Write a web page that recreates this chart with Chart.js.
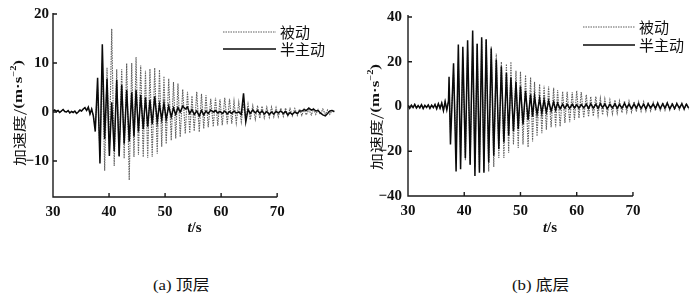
<!DOCTYPE html>
<html>
<head>
<meta charset="utf-8">
<script src="https://cdn.jsdelivr.net/npm/chart.js@4.4.0/dist/chart.umd.min.js"></script>
<style>
  body { margin: 0; background: #fff; width: 700px; height: 295px; position: relative; overflow: hidden; }
  .panel { position: absolute; top: 0; width: 350px; height: 240px; }
  .cap { position: absolute; top: 273px; font-size: 15px; color: #111; white-space: nowrap;
         transform: scaleX(1.12); transform-origin: left top; }
  .cap .n { font-family: "Liberation Serif", serif; }
  .cap .c { font-family: "Noto Sans CJK SC", sans-serif; }
</style>
</head>
<body>
<div class="panel" style="left:0"><canvas id="top" width="350" height="240"></canvas></div>
<div class="panel" style="left:350px"><canvas id="bottom" width="350" height="240"></canvas></div>
<div class="cap" style="left:153px"><span class="n">(a)</span> <span class="c">顶层</span></div>
<div class="cap" style="left:512px"><span class="n">(b)</span> <span class="c">底层</span></div>
<script>
// time axis (s)
var xTicks = [30, 40, 50, 60, 70];
var topYTicks = [-10, 0, 10, 20];
var botYTicks = [-40, -20, 0, 20, 40];

// quiet part before the shaking, both cases overlap
var preT = [30.0, 30.3, 30.6, 30.9, 31.2, 31.5, 31.8, 32.1, 32.4, 32.7,
            33.0, 33.3, 33.6, 33.9, 34.2, 34.5, 34.8, 35.1, 35.4, 35.7,
            36.0, 36.3, 36.6, 36.9, 37.2];
var topPre = [0.2, 0.4, 0.1, 0.3, -0.1, 0.2, 0.5, 0.1, 0.0, 0.3,
              -0.2, 0.1, -0.1, 0.2, -0.3, 0.0, 0.4, 0.2, 0.6, 0.9,
              0.3, 1.0, -0.4, 0.6, -0.8];
var botPre = [0.5, -0.8, 0.6, -0.5, 0.9, -0.7, 0.4, -0.6, 0.8, -0.9,
              0.5, -0.4, 0.7, -0.8, 0.6, -0.5, 0.9, -1.0, 1.2, -0.8,
              1.5, -1.8, 2.2, -1.5, 2.5];

// (a) top floor
var topT = [37.54, 37.96, 38.38, 38.8, 39.22, 39.64, 40.06, 40.48, 40.92, 41.37,
            41.8, 42.26, 42.7, 43.15, 43.6, 44.05, 44.45, 44.82, 45.25, 45.65,
            46.1, 46.5, 46.9, 47.3, 47.7, 48.15, 48.6, 49.0, 49.4, 49.8,
            50.2, 50.65, 51.1, 51.5, 51.9, 52.3, 52.7, 53.15, 53.6, 54.0,
            54.4, 54.8, 55.2, 55.65, 56.1, 56.5, 56.9, 57.3, 57.7, 58.15,
            58.6, 59.0, 59.4, 59.8, 60.2, 60.65, 61.1, 61.5, 61.9, 62.3,
            62.7, 63.15, 63.6, 64.0, 64.4, 64.8, 65.2, 65.65, 66.1, 66.5,
            66.9, 67.3, 67.7, 68.15, 68.6, 69.0, 69.4, 69.8, 70.2, 70.65,
            71.1, 71.5, 71.9, 72.3, 72.7, 73.15, 73.6, 74.0, 74.4, 74.8,
            75.2, 75.65, 76.1, 76.5, 76.9, 77.3, 77.7, 78.15, 78.6, 79.0,
            79.4, 79.8, 80.2];
var topPassive = [-3, 5, -9, 10, -12, 9, -8, 17, -11, 8.7,
                  -9.2, 8.7, -9.5, 9.9, -13.9, 10, -9.2, 11.2, -8.8, 9.5,
                  -9.2, 8.4, -9.4, 8.8, -9.2, 9, -8.5, 8.6, -7.1, 7.3,
                  -6.5, 6.8, -5.8, 6.1, -5.4, 5.8, -5.1, 4.6, -4.4, 4.1,
                  -4.3, 3.3, -3.9, 4.1, -4.1, 3.7, -3.4, 3.4, -3.1, 2.7,
                  -3.0, 2.9, -2.8, 2.6, -2.7, 2.9, -2.5, 2.7, -2.4, 2.2,
                  -2.2, 2.0, -2.0, 1.7, -1.8, 1.6, -1.6, 1.3, -1.5, 1.3,
                  -1.3, 1.2, -1.2, 1.0, -1.1, 1.0, -1.0, 0.9, -1.0, 0.8,
                  -0.9, 0.8, -0.8, 0.7, -0.8, 0.7, -0.7, 0.6, -0.7, 0.6,
                  -0.6, 0.5, -0.6, 0.6, -0.5, 0.5, -0.5, 0.6, -0.5, 0.4,
                  -0.5, 0.3, 0];
var topSemi = [-4, 7, -10.5, 13.8, -5.5, 6.8, -9, 2, -8, 6.5,
               -9, 5.5, -6.5, 4.5, -6, 4, -5, 4.5, -4, 3.5,
               -3.5, 3, -3, 2.5, -2.5, 3.2, -2, 1.5, -1.5, 1.8,
               -1.5, 1.2, -1, 0.8, -0.5, 0.9, 0, 1.2, 0.6, 1.0,
               -0.3, 0.5, -0.5, 0.2, -0.8, 0.3, -0.6, 0.2, -0.3, 0.4,
               0, 0.3, -0.2, 0.1, -0.3, 0.2, -0.4, 0.1, -0.3, 0.2,
               -0.2, 0, -0.5, 3.8, -2.0, 0.5, -0.3, 0.4, -0.2, 0.3,
               -0.3, 0.2, -0.4, 0.1, -0.5, 0, -0.4, 0.1, -0.2, 0.2,
               -0.3, 0.1, -0.6, -0.1, -0.5, 0, -0.3, 0.2, 0.2, 0.5,
               0.3, 0.8, 0.4, 0.6, 0.2, 0.3, -0.2, -0.6, -0.8, -0.3,
               0.2, 0.3, 0.1];

// (b) bottom floor
var botT = [37.3, 37.55, 38.1, 38.55, 38.95, 39.35, 39.75, 40.2, 40.6, 41.05,
            41.5, 41.9, 42.3, 42.7, 43.1, 43.5, 43.9, 44.35, 44.8, 45.25,
            45.7, 46.15, 46.6, 47.05, 47.5, 47.9, 48.3, 48.75, 49.2, 49.6,
            50.0, 50.45, 50.9, 51.35, 51.8, 52.15, 52.5, 52.95, 53.4, 53.8,
            54.2, 54.6, 55.0, 55.45, 55.9, 56.25, 56.6, 57.05, 57.5, 57.9,
            58.3, 58.75, 59.2, 59.6, 60.0, 60.4, 60.8, 61.25, 61.7, 62.1,
            62.5, 62.95, 63.4, 63.8, 64.2, 64.6, 65.0, 65.45, 65.9, 66.35,
            66.8, 67.2, 67.6, 68.05, 68.5, 68.9, 69.3, 69.75, 70.2, 70.6,
            71.0, 71.45, 71.9, 72.3, 72.7, 73.15, 73.6, 74.0, 74.4, 74.85,
            75.3, 75.7, 76.1, 76.55, 77.0, 77.4, 77.8, 78.25, 78.7, 79.1,
            79.5, 79.9];
var botPassive = [8, -12, 15, -20, 20, -22, 22, -24, 25, -26,
                  27, -27, 28, -28, 30, -29, 30, -29, 27, -27,
                  23.7, -23, 20, -23, 19, -20.7, 20, -17, 16, -18.5,
                  15.6, -17, 14, -18.2, 13, -15.6, 11, -13.3, 10, -11.9,
                  9.3, -10.4, 8.9, -9.3, 8.4, -9.3, 7.4, -8.9, 6.7, -7.4,
                  6.6, -7, 6.4, -5.9, 7, -5.2, 6.5, -5, 5.2, -4.6,
                  4.4, -4.3, 4.4, -4, 3.7, -3.7, 3.4, -3.5, 3, -3.3,
                  2.9, -3, 2.5, -2.8, 2.5, -2.6, 2.4, -2.5, 2.2, -2.3,
                  2.2, -2.2, 2.1, -2.1, 2, -2, 1.9, -1.9, 1.8, -1.8,
                  1.8, -1.7, 1.7, -1.7, 1.6, -1.6, 1.5, -1.5, 1.5, -1.5,
                  1.4, -1.2];
var botSemi = [13.3, -17, 19.3, -29, 27.7, -28, 26.7, -23, 29.6, -26,
               34, -31, 28, -29.6, 31, -29.6, 30, -25, 26, -22,
               21, -19, 18, -16, 15, -13, 13, -11, 11, -10,
               9, -8, 7, -6, 5.5, -4.5, 4.5, -3.5, 3.5, -3,
               3, -2.5, 2.5, -2, 2, -1.5, 1.5, -1, 1, -0.8,
               1, -0.8, 1, -0.6, 0.8, -0.7, 0.9, -0.6, 1, -0.8,
               1.2, -0.7, 1, -0.8, 1.3, -0.5, 1.1, -0.9, 1, -0.6,
               1.2, -0.8, 0.9, -0.7, 1.4, -0.6, 1, -0.9, 1.1, -0.7,
               1.3, -0.8, 1, -1, 1.2, -0.6, 1.1, -0.8, 1.4, -0.9,
               1.2, -0.7, 1.5, -1, 1.1, -0.9, 1.3, -0.7, 1.2, -1,
               1, -0.6];

var serif = '"Liberation Serif", "Times New Roman", serif';
var cjk = '"Noto Sans CJK SC", sans-serif';

function pts(ts, vs) {
  return ts.map(function(t, i) { return { x: t, y: vs[i] }; });
}

// axes, inner ticks, legend and titles drawn by hand
var decor = {
  id: 'decor',
  afterDatasetsDraw: function(chart, args, o) {
    var ctx = chart.ctx, a = chart.chartArea;
    var x = chart.scales.x, y = chart.scales.y;
    ctx.save();
    ctx.strokeStyle = '#1a1a1a';
    ctx.lineWidth = 1.4;
    ctx.beginPath();
    ctx.moveTo(a.left, a.top);
    ctx.lineTo(a.left, a.bottom);
    ctx.lineTo(x.getPixelForValue(xTicks[xTicks.length - 1]), a.bottom);
    xTicks.forEach(function(v) {
      var px = x.getPixelForValue(v);
      ctx.moveTo(px, a.bottom);
      ctx.lineTo(px, a.bottom - 4);
    });
    o.yTicks.forEach(function(v) {
      var py = y.getPixelForValue(v);
      ctx.moveTo(a.left, py);
      ctx.lineTo(a.left + 4, py);
    });
    ctx.stroke();

    // legend
    chart.data.datasets.forEach(function(ds, i) {
      var ly = o.legend.ys[i];
      ctx.beginPath();
      ctx.strokeStyle = ds.borderColor;
      ctx.lineWidth = ds.borderWidth;
      ctx.setLineDash(ds.borderDash || []);
      ctx.moveTo(o.legend.x1, ly);
      ctx.lineTo(o.legend.x2, ly);
      ctx.stroke();
      ctx.setLineDash([]);
      ctx.fillStyle = '#111';
      ctx.font = '15px ' + cjk;
      ctx.textBaseline = 'middle';
      ctx.textAlign = 'left';
      ctx.fillText(ds.label, o.legend.x2 + 4, ly);
    });

    // x title: italic t / s
    ctx.fillStyle = '#111';
    ctx.textBaseline = 'middle';
    ctx.font = 'italic bold 15px ' + serif;
    var w1 = ctx.measureText('t').width;
    ctx.font = 'bold 15px ' + serif;
    var w2 = ctx.measureText('/s').width;
    var sx = (a.left + a.right) / 2 - (w1 + w2) / 2;
    ctx.font = 'italic bold 15px ' + serif;
    ctx.fillText('t', sx, o.xTitleY);
    ctx.font = 'bold 15px ' + serif;
    ctx.fillText('/s', sx + w1, o.xTitleY);

    // y title
    var segs = [
      ['加速度/', '13px ' + cjk, 0],
      ['(m·s', 'bold 13px ' + serif, 0],
      ['−2', 'bold 8px ' + serif, -5],
      [')', 'bold 13px ' + serif, 0]
    ];
    var total = 0;
    segs.forEach(function(s) { ctx.font = s[1]; s.push(ctx.measureText(s[0]).width); total += s[3]; });
    ctx.translate(o.yTitle.x, o.yTitle.y);
    ctx.rotate(-Math.PI / 2);
    ctx.scale(1.3, 1);
    var cx = -total / 2;
    segs.forEach(function(s) {
      ctx.font = s[1];
      ctx.fillText(s[0], cx, s[2]);
      cx += s[3];
    });
    ctx.restore();
  }
};

function build(id, T, pre, passive, semi, yMin, yMax, yTicks, o) {
  var tickFont = { family: serif, size: 15, weight: 'bold' };
  o.yTicks = yTicks;
  return new Chart(document.getElementById(id), {
    type: 'line',
    data: {
      datasets: [{
        label: '被动',
        data: pts(preT.concat(T), pre.concat(passive)),
        borderColor: '#5e5e5e',
        borderWidth: 1.1,
        borderDash: [1.5, 1],
        order: 1
      }, {
        label: '半主动',
        data: pts(preT.concat(T), pre.concat(semi)),
        borderColor: '#0a0a0a',
        borderWidth: 1.5,
        order: 0
      }]
    },
    options: {
      responsive: false,
      animation: false,
      events: [],
      layout: { padding: { top: 13, right: o.padRight, left: 0, bottom: 0 } },
      elements: { point: { radius: 0 }, line: { tension: 0 } },
      plugins: { legend: { display: false }, tooltip: { enabled: false }, decor: o },
      scales: {
        x: {
          type: 'linear', min: 30, max: 80.5,
          grid: { display: false, drawTicks: false },
          border: { display: false },
          ticks: { font: tickFont, color: '#111', padding: 6, maxRotation: 0 },
          afterBuildTicks: function(s) { s.ticks = xTicks.map(function(v) { return { value: v }; }); },
          afterFit: function(s) { s.height = o.xAxisH; }
        },
        y: {
          min: yMin, max: yMax,
          grid: { display: false, drawTicks: false },
          border: { display: false },
          ticks: {
            font: tickFont, color: '#111', padding: o.yPad,
            callback: function(v) { return String(v).replace('-', '−'); }
          },
          afterBuildTicks: function(s) { s.ticks = yTicks.map(function(v) { return { value: v }; }); },
          afterFit: function(s) { s.width = o.yAxisW; }
        }
      }
    },
    plugins: [decor]
  });
}

build('top', topT, topPre, topPassive, topSemi, -17.35, 20.2, topYTicks, {
  yAxisW: 53, padRight: 14, xAxisH: 43, yPad: 4, xTitleY: 228,
  yTitle: { x: 19, y: 113 },
  legend: { x1: 223, x2: 276, ys: [32, 49] }
});
build('bottom', botT, botPre, botPassive, botSemi, -40, 40.9, botYTicks, {
  yAxisW: 58, padRight: 8, xAxisH: 44, yPad: 6, xTitleY: 228,
  yTitle: { x: 26, y: 117 },
  legend: { x1: 233, x2: 285, ys: [27, 45] }
});
</script>
</body>
</html>
